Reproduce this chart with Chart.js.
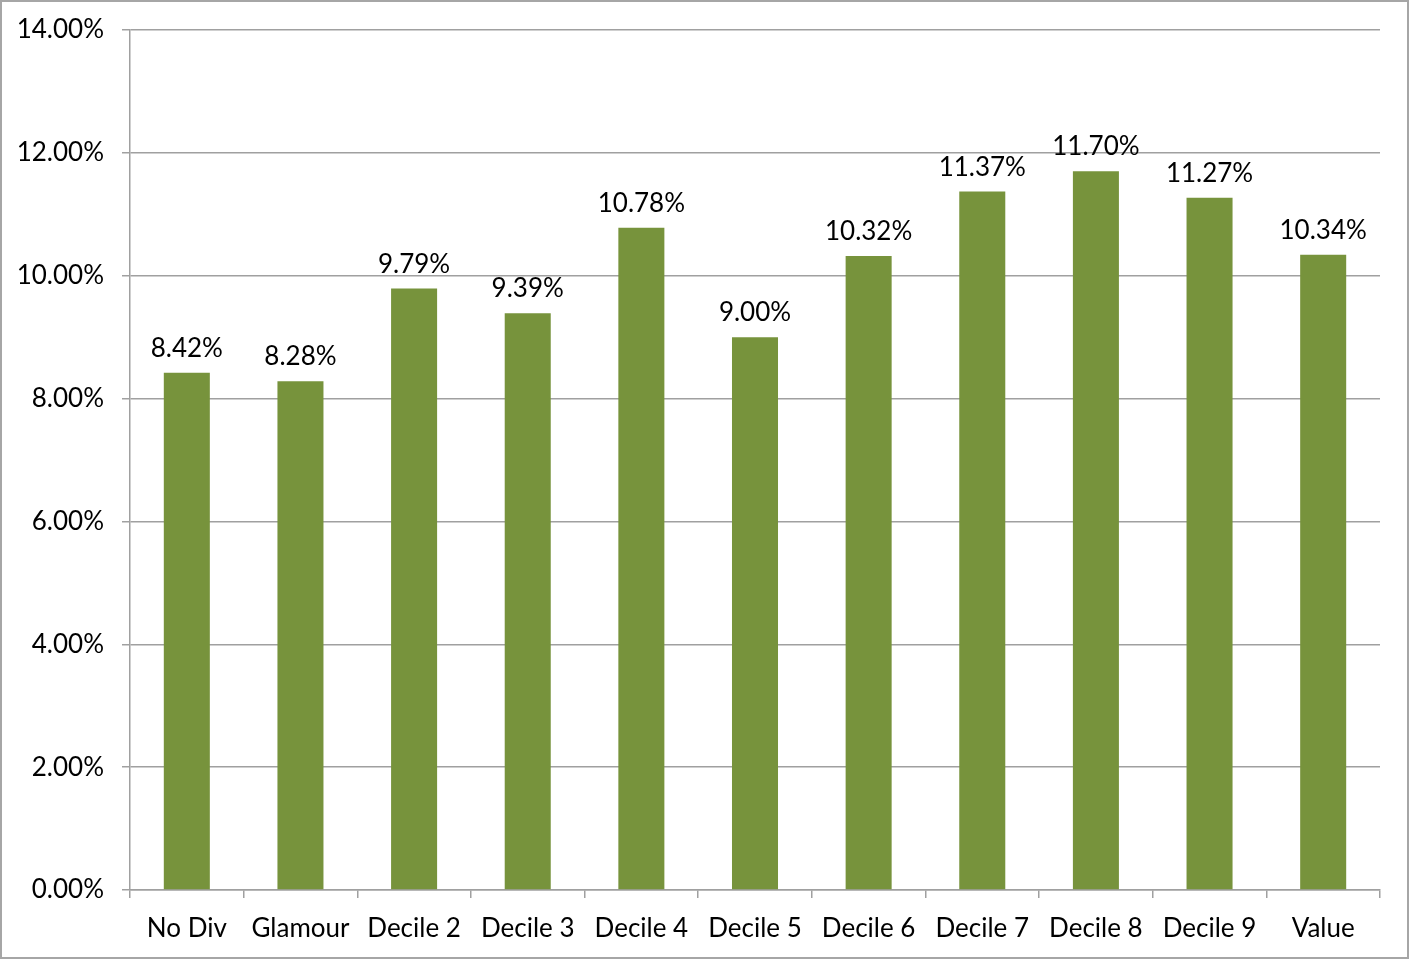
<!DOCTYPE html>
<html>
<head>
<meta charset="utf-8">
<script src="https://cdn.jsdelivr.net/npm/chart.js@4"></script>
<style>
html,body{margin:0;padding:0;background:#fff;}
canvas{display:block;}
</style>
</head>
<body>
<canvas id="c" width="1409" height="959"></canvas>
<script>
const categories = ["No Div","Glamour","Decile 2","Decile 3","Decile 4","Decile 5","Decile 6","Decile 7","Decile 8","Decile 9","Value"];
const returns = [8.42, 8.28, 9.79, 9.39, 10.78, 9.00, 10.32, 11.37, 11.70, 11.27, 10.34];
const yMin = 0, yMax = 14, yStep = 2;

const FONT = "Lato, 'Open Sans', sans-serif";

const frame = {
  id: 'frame',
  beforeDraw(chart){
    const ctx = chart.ctx;
    ctx.save();
    ctx.fillStyle = '#fff';
    ctx.fillRect(0,0,chart.width,chart.height);
    ctx.restore();
  },
  afterDraw(chart){
    const ctx = chart.ctx;
    ctx.save();
    ctx.strokeStyle = '#A6A6A6';
    ctx.lineWidth = 2;
    ctx.strokeRect(1,1,chart.width-2,chart.height-2);
    ctx.restore();
  }
};

const labelsPlugin = {
  id: 'valueLabels',
  afterDatasetsDraw(chart){
    const ctx = chart.ctx;
    const meta = chart.getDatasetMeta(0);
    ctx.save();
    ctx.font = "26px " + FONT;
    ctx.fillStyle = '#000';
    ctx.textAlign = 'center';
    ctx.textBaseline = 'alphabetic';
    meta.data.forEach((bar, i) => {
      const v = chart.data.datasets[0].data[i];
      ctx.fillText(v.toFixed(2) + '%', bar.x, bar.y - 16);
    });
    ctx.restore();
  }
};

new Chart(document.getElementById('c'), {
  type: 'bar',
  data: {
    labels: categories,
    datasets: [{
      data: returns,
      backgroundColor: '#77933C',
      borderWidth: 0,
      barPercentage: 0.405,
      categoryPercentage: 1.0
    }]
  },
  options: {
    responsive: false,
    animation: false,
    layout: { padding: { top: 30, right: 29, left: 0, bottom: 0 } },
    plugins: { legend: { display: false }, tooltip: { enabled: false } },
    scales: {
      x: {
        afterFit(s){ s.height = 69; s.paddingLeft = 0; s.paddingRight = 0; },
        grid: { display: true, drawOnChartArea: false, drawTicks: true, tickLength: 8, color: '#A0A0A0', lineWidth: 1.5, offset: true },
        border: { display: true, color: '#A0A0A0', width: 1.5 },
        ticks: { color: '#000', font: { family: FONT, size: 26 }, padding: 15, maxRotation: 0, autoSkip: false }
      },
      y: {
        min: yMin, max: yMax,
        afterFit(s){ s.width = 130; s.paddingTop = 0; s.paddingBottom = 0; },
        grid: { color: '#A0A0A0', lineWidth: 1.5, drawTicks: true, tickLength: 8 },
        border: { display: true, color: '#A0A0A0', width: 1.5 },
        ticks: { stepSize: yStep, color: '#000', font: { family: FONT, size: 26 }, padding: 18,
          callback: v => Number(v).toFixed(2) + '%' }
      }
    }
  },
  plugins: [frame, labelsPlugin]
});
</script>
</body>
</html>
